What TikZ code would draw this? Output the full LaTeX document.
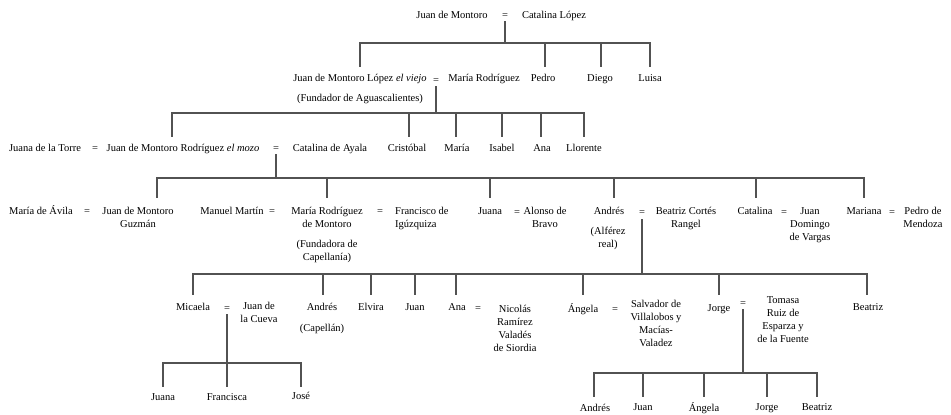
\documentclass[tikz,border=0pt]{standalone}
\usepackage{fontspec}
\setmainfont{Liberation Serif}
% stacked lines whose baseline is that of the first line
\newcommand\stk[1]{\begin{tabular}[t]{@{}c@{}}#1\end{tabular}}
\newcommand\stkl[1]{\begin{tabular}[t]{@{}l@{}}#1\end{tabular}}
\begin{document}
\begin{tikzpicture}[x=1pt,y=-1pt,
  nm/.style={anchor=base, inner sep=0pt, text=black,
             font=\fontsize{10.5}{13.3}\selectfont},
  eqs/.style={nm},
  line/.style={draw=black!68, line width=1.1pt}]
\useasboundingbox (0,0) rectangle (951,415);
\fill[white] (0,0) rectangle (951,415);

% ---------- generation 0 ----------
\node[nm]  (a0) at (452,18) {Juan de Montoro};
\node[eqs] (e0) at (505,18) {=};
\node[nm]  (b0) at (554,18) {Catalina López};
\coordinate (f0) at (505,43);
\draw[line] ([yshift=-3pt]e0.base) -- (f0);

% ---------- generation 1 ----------
\node[nm]  (a1)  at (360,81)  {Juan de Montoro López \textit{el viejo}};
\node[nm]  (a1n) at (360,101) {(Fundador de Aguascalientes)};
\node[eqs] (e1)  at (436,83)  {=};
\node[nm]  (b1)  at (484,81)  {María Rodríguez};
\node[nm]  (pedro) at (543,81) {Pedro};
\node[nm]  (diego) at (600,81) {Diego};
\node[nm]  (luisa) at (650,81) {Luisa};
\draw[line] (f0) -| ([yshift=14pt]a1.base);
\draw[line] (f0) -| ([xshift=2pt,yshift=14pt]pedro.base);
\draw[line] (f0) -| ([xshift=1pt,yshift=14pt]diego.base);
\draw[line] (f0) -| ([yshift=14pt]luisa.base);
\coordinate (f1) at (436,113);
\draw[line] ([yshift=-3pt]e1.base) -- (f1);

% ---------- generation 2 ----------
\node[nm]  (a2)  at (45,151)  {Juana de la Torre};
\node[eqs] (e2a) at (95,151)  {=};
\node[nm]  (b2)  at (183,151) {Juan de Montoro Rodríguez \textit{el mozo}};
\node[eqs] (e2b) at (276,151) {=};
\node[nm]  (c2)  at (330,151) {Catalina de Ayala};
\node[nm]  (cris)  at (407,151) {Cristóbal};
\node[nm]  (maria2) at (457,151) {María};
\node[nm]  (isabel) at (502,151) {Isabel};
\node[nm]  (ana2)  at (542,151) {Ana};
\node[nm]  (llor)  at (584,151) {Llorente};
\draw[line] (f1) -| ([xshift=-11pt,yshift=14pt]b2.base);
\draw[line] (f1) -| ([xshift=2pt,yshift=14pt]cris.base);
\draw[line] (f1) -| ([xshift=-1pt,yshift=14pt]maria2.base);
\draw[line] (f1) -| ([yshift=14pt]isabel.base);
\draw[line] (f1) -| ([xshift=-1pt,yshift=14pt]ana2.base);
\draw[line] (f1) -| ([yshift=14pt]llor.base);
\coordinate (f2) at (276,178);
\draw[line] ([yshift=-3pt]e2b.base) -- (f2);

% ---------- generation 3 ----------
\node[nm]  (a3)  at (41,214)  {María de Ávila};
\node[eqs] (e3a) at (87,214)  {=};
\node[nm]  (b3)  at (138,214) {\stk{Juan de Montoro\\Guzmán}};
\node[nm]  (c3)  at (232,214) {Manuel Martín};
\node[eqs] (e3b) at (272,214) {=};
\node[nm]  (d3)  at (327,214) {\stk{María Rodríguez\\de Montoro}};
\node[nm]  (d3n) at (327,247) {\stk{(Fundadora de\\Capellanía)}};
\node[eqs] (e3c) at (380,214) {=};
\node[nm, anchor=base west] (g3) at (395,214) {\stkl{Francisco de\\Igúzquiza}};
\node[nm]  (h3)  at (490,214) {Juana};
\node[eqs] (e3d) at (517,215) {=};
\node[nm]  (i3)  at (545,214) {\stk{Alonso de\\Bravo}};
\node[nm]  (j3)  at (609,214) {Andrés};
\node[nm]  (j3n) at (608,234) {\stk{(Alférez\\real)}};
\node[eqs] (e3e) at (642,215) {=};
\node[nm]  (k3)  at (686,214) {\stk{Beatriz Cortés\\Rangel}};
\node[nm]  (l3)  at (755,214) {Catalina};
\node[eqs] (e3f) at (784,215) {=};
\node[nm]  (m3)  at (810,214) {\stk{Juan\\Domingo\\de Vargas}};
\node[nm]  (n3)  at (864,214) {Mariana};
\node[eqs] (e3g) at (892,215) {=};
\node[nm]  (o3)  at (923,214) {\stk{Pedro de\\Mendoza}};
\draw[line] (f2) -| ([xshift=19pt,yshift=16pt]b3.base);
\draw[line] (f2) -| ([yshift=16pt]d3.base);
\draw[line] (f2) -| ([yshift=16pt]h3.base);
\draw[line] (f2) -| ([xshift=5pt,yshift=16pt]j3.base);
\draw[line] (f2) -| ([xshift=1pt,yshift=16pt]l3.base);
\draw[line] (f2) -| ([yshift=16pt]n3.base);
\coordinate (f3) at (642,274);
\draw[line] ([yshift=-4pt]e3e.base) -- (f3);

% ---------- generation 4 ----------
\node[nm]  (a4)  at (193,310) {Micaela};
\node[eqs] (e4a) at (227,311) {=};
\node[nm]  (b4)  at (259,309) {\stk{Juan de\\la Cueva}};
\node[nm]  (c4)  at (322,310) {Andrés};
\node[nm]  (c4n) at (322,331) {(Capellán)};
\node[nm]  (d4)  at (371,310) {Elvira};
\node[nm]  (g4)  at (415,310) {Juan};
\node[nm]  (h4)  at (457,310) {Ana};
\node[eqs] (e4b) at (478,311) {=};
\node[nm]  (i4)  at (515,312) {\stk{Nicolás\\Ramírez\\Valadés\\de Siordia}};
\node[nm]  (j4)  at (583,312) {Ángela};
\node[eqs] (e4c) at (615,312) {=};
\node[nm]  (k4)  at (656,307) {\stk{Salvador de\\Villalobos y\\Macías-\\Valadez}};
\node[nm]  (l4)  at (719,311) {Jorge};
\node[eqs] (e4d) at (743,306) {=};
\node[nm]  (m4)  at (783,303) {\stk{Tomasa\\Ruiz de\\Esparza y\\de la Fuente}};
\node[nm]  (n4)  at (868,310) {Beatriz};
\draw[line] (f3) -| ([yshift=15pt]a4.base);
\draw[line] (f3) -| ([xshift=1pt,yshift=15pt]c4.base);
\draw[line] (f3) -| ([yshift=15pt]d4.base);
\draw[line] (f3) -| ([yshift=15pt]g4.base);
\draw[line] (f3) -| ([xshift=-1pt,yshift=15pt]h4.base);
\draw[line] (f3) -| ([yshift=17pt]j4.base);
\draw[line] (f3) -| ([yshift=16pt]l4.base);
\draw[line] (f3) -| ([xshift=-1pt,yshift=15pt]n4.base);
\coordinate (f4a) at (227,363);
\draw[line] ([yshift=-3pt]e4a.base) -- (f4a);
\coordinate (f4b) at (743,373);
\draw[line] ([yshift=-3pt]e4d.base) -- (f4b);

% ---------- generation 5 ----------
\node[nm] (a5) at (163,400) {Juana};
\node[nm] (b5) at (227,400) {Francisca};
\node[nm] (c5) at (301,399) {José};
\draw[line] (f4a) -| ([yshift=13pt]a5.base);
\draw[line] (f4a) -| ([yshift=13pt]b5.base);
\draw[line] (f4a) -| ([yshift=12pt]c5.base);

\node[nm] (d5) at (595,411) {Andrés};
\node[nm] (g5) at (643,410) {Juan};
\node[nm] (h5) at (704,411) {Ángela};
\node[nm] (i5) at (767,410) {Jorge};
\node[nm] (j5) at (817,410) {Beatriz};
\draw[line] (f4b) -| ([xshift=-1pt,yshift=14pt]d5.base);
\draw[line] (f4b) -| ([yshift=13pt]g5.base);
\draw[line] (f4b) -| ([yshift=14pt]h5.base);
\draw[line] (f4b) -| ([yshift=13pt]i5.base);
\draw[line] (f4b) -| ([yshift=13pt]j5.base);
\end{tikzpicture}
\end{document}
